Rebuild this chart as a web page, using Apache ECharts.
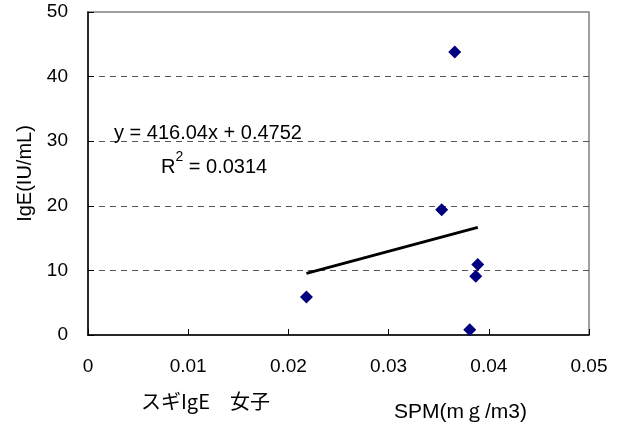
<!DOCTYPE html>
<html>
<head>
<meta charset="utf-8">
<script src="https://cdn.jsdelivr.net/npm/echarts@6/dist/echarts.min.js"></script>
<style>html,body{margin:0;padding:0;background:#fff}#c{width:622px;height:430px}</style>
</head>
<body>
<div id="c"></div>
<script>
const spmValues = [0.0218, 0.0353, 0.0366, 0.0381, 0.0387, 0.0389];
const igeValues = [5.9, 19.4, 43.8, 0.8, 9.1, 10.9];
const xTicks = [0, 0.01, 0.02, 0.03, 0.04, 0.05];
const yTicks = [0, 10, 20, 30, 40, 50];
const slope = 416.04;
const intercept = 0.4752;
const r2 = 0.0314;
const equationText = 'y = 416.04x + 0.4752';
const titleText = 'スギIgE　女子';
const xName = 'SPM(mｇ/m3)';
const yName = 'IgE(IU/mL)';

const points = spmValues.map((x, i) => [x, igeValues[i]]);
const xmin = Math.min(...spmValues), xmax = Math.max(...spmValues);
const trend = [[xmin, slope * xmin + intercept], [xmax, slope * xmax + intercept]];

const font = 'Liberation Sans, Arial, sans-serif';
const chart = echarts.init(document.getElementById('c'), null, {renderer: 'canvas'});
chart.setOption({
  animation: false,
  backgroundColor: '#fff',
  textStyle: {fontFamily: font},
  title: [
    {text: titleText, left: 136, top: 386, textStyle: {fontFamily: 'Noto Sans CJK JP', fontSize: 20, fontWeight: 'normal', color: '#000'}},
    {text: xName, left: 389, top: 397, textStyle: {fontFamily: font, fontSize: 21, fontWeight: 'normal', color: '#000'}}
  ],
  grid: {left: 88, right: 33, top: 12, bottom: 95, show: true, borderColor: '#808080', borderWidth: 1.5, backgroundColor: 'transparent'},
  xAxis: {
    type: 'value', min: xTicks[0], max: xTicks[xTicks.length - 1], interval: 0.01,
    axisLine: {lineStyle: {color: '#000', width: 1.5}},
    axisTick: {inside: true, length: 6, lineStyle: {color: '#000'}},
    axisLabel: {color: '#000', fontSize: 19, margin: 22, fontFamily: font},
    splitLine: {show: false}
  },
  yAxis: {
    type: 'value', min: yTicks[0], max: yTicks[yTicks.length - 1], interval: 10,
    name: yName, nameLocation: 'middle', nameRotate: 90, nameGap: 52,
    nameTextStyle: {color: '#000', fontSize: 20, fontFamily: font},
    axisLine: {show: true, lineStyle: {color: '#000', width: 1.5}},
    axisTick: {show: true, inside: true, length: 6, lineStyle: {color: '#000'}},
    axisLabel: {color: '#000', fontSize: 19, margin: 20, fontFamily: font},
    splitLine: {show: true, showMinLine: false, showMaxLine: false, lineStyle: {color: '#555', type: [6, 5], width: 1}}
  },
  graphic: [
    {type: 'text', left: 114, top: 123, z: 100, style: {text: equationText, fontSize: 20, fontFamily: font, fill: '#000'}},
    {type: 'text', left: 161, top: 150, z: 100, style: {
      text: '{b|R}{s|2}{b| = ' + r2.toFixed(4) + '}',
      rich: {
        b: {fontSize: 20, fontFamily: font, fill: '#000', lineHeight: 27, verticalAlign: 'bottom'},
        s: {fontSize: 14, fontFamily: font, fill: '#000', lineHeight: 14, verticalAlign: 'top'}
      }
    }}
  ],
  series: [
    {type: 'line', data: trend, symbol: 'none', lineStyle: {color: '#000', width: 3}, z: 3},
    {type: 'scatter', data: points, symbol: 'diamond', symbolSize: [13, 13], itemStyle: {color: '#000080', opacity: 1}, z: 4}
  ]
});
</script>
</body>
</html>
